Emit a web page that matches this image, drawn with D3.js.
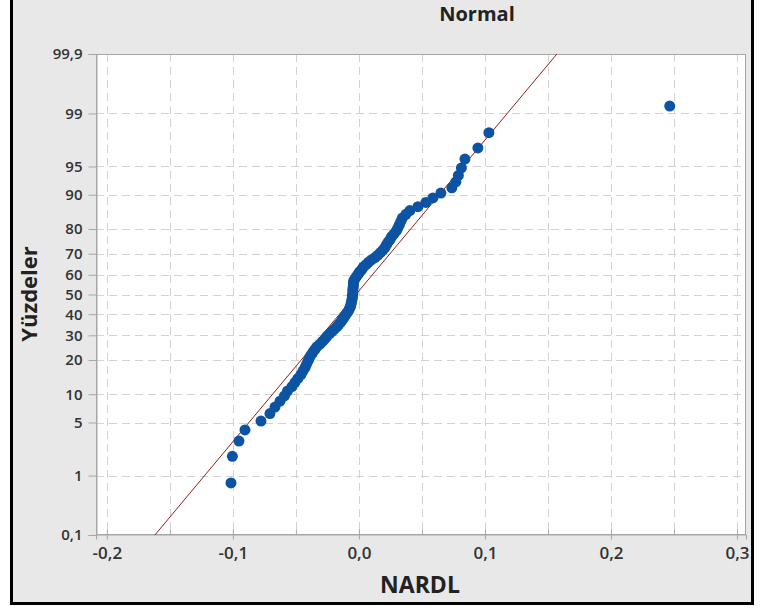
<!DOCTYPE html>
<html>
<head>
<meta charset="utf-8">
<script src="https://cdn.jsdelivr.net/npm/d3@7"></script>
<style>
  html, body { margin: 0; padding: 0; background: #fff; }
  svg { display: block; }
</style>
</head>
<body>
<div id="chart"></div>
<script>
// NARDL residuals, sorted
var nardl = [
  -0.1015, -0.1004, -0.0952, -0.0904, -0.0777, -0.0706, -0.0666, -0.0626, -0.0591, -0.0567,
  -0.0531, -0.0507, -0.0484, -0.0460, -0.0444, -0.0428, -0.0416, -0.0404, -0.0393, -0.0381,
  -0.0365, -0.0349, -0.0333, -0.0309, -0.0289, -0.0270, -0.0254, -0.0234, -0.0214, -0.0194,
  -0.0174, -0.0159, -0.0143, -0.0131, -0.0119, -0.0107, -0.0095, -0.0083, -0.0075, -0.0067,
  -0.0063, -0.0059, -0.0056, -0.0052, -0.0052, -0.0048, -0.0048, -0.0048, -0.0045, -0.0044,
  -0.0044, -0.0040, -0.0028, -0.0016, -0.0004, 0.0008, 0.0024, 0.0036, 0.0056, 0.0075,
  0.0099, 0.0127, 0.0151, 0.0170, 0.0190, 0.0206, 0.0218, 0.0230, 0.0246, 0.0259,
  0.0278, 0.0297, 0.0309, 0.0321, 0.0333, 0.0345, 0.0373, 0.0404, 0.0468, 0.0531,
  0.0587, 0.0650, 0.0737, 0.0769, 0.0789, 0.0813, 0.0841, 0.0944, 0.1031, 0.2466
];

var xTicks = [-0.2, -0.1, 0.0, 0.1, 0.2, 0.3];
var xGrid = [-0.2, -0.15, -0.1, -0.05, 0.0, 0.05, 0.1, 0.15, 0.2, 0.25, 0.3];
var yTicks = [0.1, 1, 5, 10, 20, 30, 40, 50, 60, 70, 80, 90, 95, 99, 99.9];

// fitted normal line (mean, st.dev)
var fitMean = -0.0024;
var fitSd = 0.0516;

// inverse normal CDF (Acklam)
function probit(p) {
  var a = [-39.69683028665376, 220.9460984245205, -275.9285104469687, 138.3577518672690, -30.66479806614716, 2.506628277459239];
  var b = [-54.47609879822406, 161.5858368580409, -155.6989798598866, 66.80131188771972, -13.28068155288572];
  var c = [-0.007784894002430293, -0.3223964580411365, -2.400758277161838, -2.549732539343734, 4.374664141464968, 2.938163982698783];
  var d = [0.007784695709041462, 0.3224671290700398, 2.445134137142996, 3.754408661907416];
  var q, r;
  if (p < 0.02425) {
    q = Math.sqrt(-2 * Math.log(p));
    return (((((c[0]*q+c[1])*q+c[2])*q+c[3])*q+c[4])*q+c[5]) / ((((d[0]*q+d[1])*q+d[2])*q+d[3])*q+1);
  } else if (p > 1 - 0.02425) {
    q = Math.sqrt(-2 * Math.log(1 - p));
    return -(((((c[0]*q+c[1])*q+c[2])*q+c[3])*q+c[4])*q+c[5]) / ((((d[0]*q+d[1])*q+d[2])*q+d[3])*q+1);
  }
  q = p - 0.5; r = q * q;
  return (((((a[0]*r+a[1])*r+a[2])*r+a[3])*r+a[4])*r+a[5])*q / (((((b[0]*r+b[1])*r+b[2])*r+b[3])*r+b[4])*r+1);
}

var W = 765, H = 610;
var plot = { left: 96, right: 746, top: 54, bottom: 535 };
var FONT = "'Open Sans', 'Noto Sans', sans-serif";

var svg = d3.select("#chart").append("svg")
  .attr("width", W)
  .attr("height", H)
  .style("font-family", FONT);

// panel background + frame
svg.append("rect")
  .attr("x", 11.5).attr("y", -5)
  .attr("width", 741).attr("height", 608.5)
  .attr("fill", "#e8e8e8")
  .attr("stroke", "#000")
  .attr("stroke-width", 3);

var zMax = probit(0.999);
var x = d3.scaleLinear().domain([-0.2086, 0.3071]).range([plot.left, plot.right]);
var y = d3.scaleLinear().domain([-zMax, zMax]).range([plot.bottom, plot.top]);

svg.append("rect")
  .attr("x", plot.left).attr("y", plot.top)
  .attr("width", plot.right - plot.left)
  .attr("height", plot.bottom - plot.top)
  .attr("fill", "#fff");

// dashed grid
var grid = svg.append("g")
  .attr("stroke", "#d2d2d2")
  .attr("stroke-width", 1)
  .attr("stroke-dasharray", "8,5");

grid.selectAll(".vg")
  .data(xGrid)
  .enter()
  .append("line")
  .attr("class", "vg")
  .attr("x1", function(d) { return Math.round(x(d)) + 0.5; })
  .attr("x2", function(d) { return Math.round(x(d)) + 0.5; })
  .attr("y1", plot.top)
  .attr("y2", plot.bottom);

grid.selectAll(".hg")
  .data(yTicks.filter(function(d) { return d > 0.1 && d < 99.9; }))
  .enter()
  .append("line")
  .attr("class", "hg")
  .attr("x1", plot.left)
  .attr("x2", plot.right)
  .attr("y1", function(d) { return Math.round(y(probit(d / 100))) + 0.5; })
  .attr("y2", function(d) { return Math.round(y(probit(d / 100))) + 0.5; });

// plot frame
svg.append("rect")
  .attr("x", plot.left + 0.5).attr("y", plot.top + 0.5)
  .attr("width", plot.right - plot.left - 1)
  .attr("height", plot.bottom - plot.top - 1)
  .attr("fill", "none")
  .attr("stroke", "#a6a6a6")
  .attr("stroke-width", 1);

// axes
var fmt = function(d) { return d3.format(".1f")(d).replace(".", ",").replace("−", "-"); };

var xAxis = svg.append("g")
  .attr("transform", "translate(0," + (plot.bottom - 0.5) + ")")
  .call(d3.axisBottom(x).tickValues(xTicks).tickSize(5).tickPadding(7).tickFormat(fmt));

var xMinor = svg.append("g")
  .attr("transform", "translate(0," + (plot.bottom - 0.5) + ")")
  .call(d3.axisTop(x).tickValues(xGrid).tickSize(5).tickFormat(""));
xMinor.select(".domain").remove();

var yAxis = svg.append("g")
  .attr("transform", "translate(" + (plot.left + 0.5) + ",0)")
  .call(d3.axisLeft(y)
    .tickValues(yTicks.map(function(d) { return probit(d / 100); }))
    .tickSize(8).tickPadding(6)
    .tickFormat(function(d, i) { return String(yTicks[i]).replace(".", ","); }));

[xAxis, yAxis, xMinor].forEach(function(g) {
  g.attr("font-family", null).attr("font-size", null);
  g.select(".domain").attr("stroke", "#a6a6a6");
  g.selectAll(".tick line").attr("stroke", "#a6a6a6");
  g.selectAll(".tick text")
    .attr("fill", "#333")
    .style("font-family", FONT)
    .style("font-size", "15px")
    .style("font-weight", "600");
});
xAxis.selectAll(".tick text").style("font-size", "17px");

// fitted line
var zLo = -zMax, zHi = zMax;
svg.append("line")
  .attr("x1", x(fitMean + fitSd * zLo))
  .attr("y1", y(zLo))
  .attr("x2", x(fitMean + fitSd * zHi))
  .attr("y2", y(zHi))
  .attr("stroke", "#8e1f1f")
  .attr("stroke-width", 1);

// points, median ranks
var n = nardl.length;
svg.append("g")
  .selectAll("circle")
  .data(nardl)
  .enter()
  .append("circle")
  .attr("cx", function(d) { return x(d); })
  .attr("cy", function(d, i) { return y(probit((i + 1 - 0.3) / (n + 0.4))); })
  .attr("r", 5.5)
  .attr("fill", "#0c54a3");

// titles
svg.append("text")
  .attr("x", 477).attr("y", 21)
  .attr("text-anchor", "middle")
  .style("font-size", "20px")
  .style("font-weight", "700")
  .attr("fill", "#222")
  .text("Normal");

svg.append("text")
  .attr("x", 420).attr("y", 593)
  .attr("text-anchor", "middle")
  .style("font-size", "23px")
  .style("font-weight", "700")
  .attr("fill", "#222")
  .text("NARDL");

svg.append("text")
  .attr("transform", "translate(37," + 294 + ") rotate(-90)")
  .attr("text-anchor", "middle")
  .style("font-size", "22px")
  .style("font-weight", "700")
  .attr("fill", "#222")
  .text("Yüzdeler");
</script>
</body>
</html>
